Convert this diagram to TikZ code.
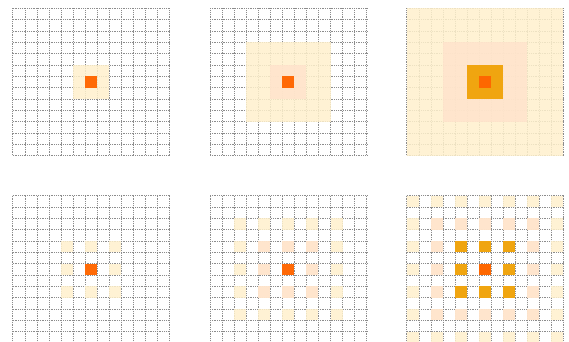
\documentclass[tikz,border=0pt]{standalone}
\definecolor{cOrange}{HTML}{FF6600}
\definecolor{cDark}{HTML}{F0A30A}
\definecolor{cPeach}{HTML}{FFE3CC}
\definecolor{cYellow}{HTML}{FFF0CC}
\tikzset{
  gridline/.style={draw=black!45, line width=0.5pt, dash pattern=on 0.9pt off 0.9pt},
  softfill/.style={fill opacity=0.85},
  hardfill/.style={fill opacity=0.97},
}
\newcommand\cw{12.05}
\newcommand\ch{11.33}
\newcommand\mygrid[2]{%
  \foreach \k in {0,...,13}{
    \draw[gridline] ({#1+\k*\cw},#2) -- ({#1+\k*\cw},{#2+13*\ch});
    \draw[gridline] (#1,{#2+\k*\ch}) -- ({#1+13*\cw},{#2+\k*\ch});
  }}
% x0 y0 i j ncells style
\newcommand\myblock[6]{%
  \fill[#6] ({#1+#3*\cw},{#2+#4*\ch}) rectangle ({#1+(#3+#5)*\cw},{#2+(#4+#5)*\ch});}
\begin{document}
\begin{tikzpicture}[x=1pt,y=-1pt]
\useasboundingbox (0,0) rectangle (569,341);
\clip (0,0) rectangle (569,341);
% ---------- top row ----------
\mygrid{12.7}{8.3}
\myblock{12.7}{8.3}{5}{5}{3}{cYellow,softfill}
\myblock{12.7}{8.3}{6}{6}{1}{cOrange,hardfill}

\mygrid{210}{8.3}
\myblock{210}{8.3}{3}{3}{7}{cYellow,softfill}
\myblock{210}{8.3}{5}{5}{3}{cPeach,softfill}
\myblock{210}{8.3}{6}{6}{1}{cOrange,hardfill}

\mygrid{406.7}{8.3}
\myblock{406.7}{8.3}{0}{0}{13}{cYellow,softfill}
\myblock{406.7}{8.3}{3}{3}{7}{cPeach,softfill}
\myblock{406.7}{8.3}{5}{5}{3}{cDark,hardfill}
\myblock{406.7}{8.3}{6}{6}{1}{cOrange,hardfill}

% ---------- bottom row ----------
\mygrid{12.7}{195.7}
\foreach \i in {4,6,8}{\foreach \j in {4,6,8}{
  \myblock{12.7}{195.7}{\i}{\j}{1}{cYellow,softfill}}}
\myblock{12.7}{195.7}{6}{6}{1}{cOrange,hardfill}

\mygrid{210}{195.7}
\foreach \i in {2,4,6,8,10}{\foreach \j in {2,4,6,8,10}{
  \myblock{210}{195.7}{\i}{\j}{1}{cYellow,softfill}}}
\foreach \i in {4,6,8}{\foreach \j in {4,6,8}{
  \myblock{210}{195.7}{\i}{\j}{1}{cPeach,softfill}}}
\myblock{210}{195.7}{6}{6}{1}{cOrange,hardfill}

\mygrid{406.7}{195.7}
\foreach \i in {0,2,...,12}{\foreach \j in {0,2,...,12}{
  \myblock{406.7}{195.7}{\i}{\j}{1}{cYellow,softfill}}}
\foreach \i in {2,4,...,10}{\foreach \j in {2,4,...,10}{
  \myblock{406.7}{195.7}{\i}{\j}{1}{cPeach,softfill}}}
\foreach \i in {4,6,8}{\foreach \j in {4,6,8}{
  \myblock{406.7}{195.7}{\i}{\j}{1}{cDark,hardfill}}}
\myblock{406.7}{195.7}{6}{6}{1}{cOrange,hardfill}
\end{tikzpicture}
\end{document}
